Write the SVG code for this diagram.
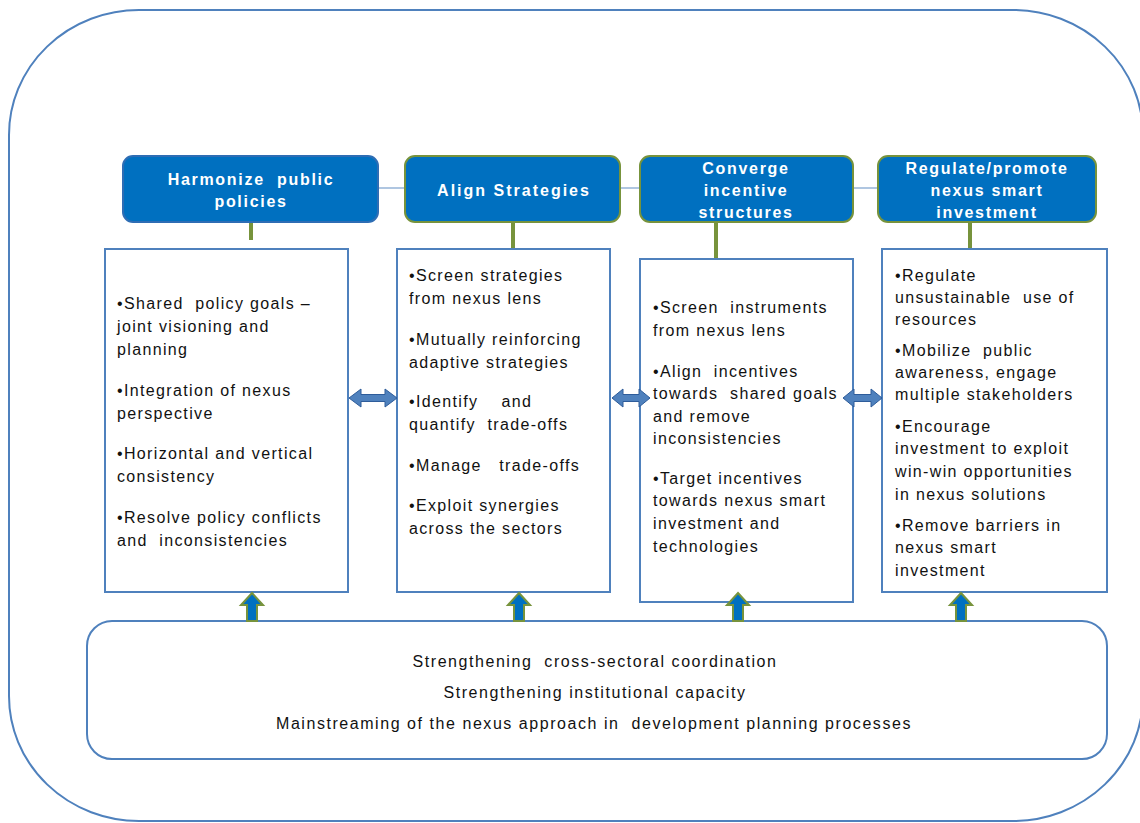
<svg xmlns="http://www.w3.org/2000/svg" width="1140" height="823" viewBox="0 0 1140 823">
<style>
text{white-space:pre}
.frame{fill:#fff;stroke:#4F81BD;stroke-width:2}
.head{fill:#0070C0;stroke-width:2}
.hb{stroke:#2E6DB4}
.hg{stroke:#77933C}
.box{fill:#fff;stroke:#4F81BD;stroke-width:2}
.ht{font-family:"Liberation Sans",Arial,sans-serif;font-weight:bold;font-size:16px;fill:#fff;text-anchor:middle;letter-spacing:1.7px}
.bt{font-family:"Liberation Sans",Arial,sans-serif;font-size:16px;fill:#111;letter-spacing:1.35px}
.ct{font-family:"Liberation Sans",Arial,sans-serif;font-size:16px;fill:#111;text-anchor:middle;letter-spacing:1.55px}
.link{stroke:#95B3D7;stroke-width:1.5;fill:none}
.stub{stroke:#77933C;stroke-width:4;fill:none}
.darr{fill:#4F81BD;stroke:#2E5C9A;stroke-width:1}
.uarr{fill:#0070C0;stroke:#77933C;stroke-width:2}
</style>
<rect class="frame" x="9" y="10" width="1134" height="811" rx="130" ry="125"/>
<g id="h1">
<rect class="head hb" x="123" y="156" width="255" height="66" rx="10"/>
<text class="ht" x="251" y="185">Harmonize  public</text>
<text class="ht" x="251" y="207">policies</text>
</g>
<g id="h2">
<rect class="head hg" x="405" y="156" width="215" height="66" rx="10"/>
<text class="ht" x="514" y="196" style="letter-spacing:2px">Align Strategies</text>
</g>
<g id="h3">
<rect class="head hg" x="640" y="156" width="213" height="66" rx="10"/>
<text class="ht" x="746" y="174">Converge</text>
<text class="ht" x="746" y="196">incentive</text>
<text class="ht" x="746" y="218">structures</text>
</g>
<g id="h4">
<rect class="head hg" x="878" y="156" width="218" height="66" rx="10"/>
<text class="ht" x="987" y="174">Regulate/promote</text>
<text class="ht" x="987" y="196">nexus smart</text>
<text class="ht" x="987" y="218">investment</text>
</g>
<g id="b1">
<rect class="box" x="105" y="249" width="243" height="343"/>
<text class="bt" x="117" y="309">•Shared  policy goals –</text>
<text class="bt" x="117" y="332">joint visioning and</text>
<text class="bt" x="117" y="355">planning</text>
<text class="bt" x="117" y="396">•Integration of nexus</text>
<text class="bt" x="117" y="419">perspective</text>
<text class="bt" x="117" y="459">•Horizontal and vertical</text>
<text class="bt" x="117" y="482">consistency</text>
<text class="bt" x="117" y="523">•Resolve policy conflicts</text>
<text class="bt" x="117" y="546">and  inconsistencies</text>
</g>
<g id="b2">
<rect class="box" x="397" y="249" width="213" height="343"/>
<text class="bt" x="409" y="281">•Screen strategies</text>
<text class="bt" x="409" y="304">from nexus lens</text>
<text class="bt" x="409" y="345">•Mutually reinforcing</text>
<text class="bt" x="409" y="368">adaptive strategies</text>
<text class="bt" x="409" y="407">•Identify    and</text>
<text class="bt" x="409" y="430">quantify  trade-offs</text>
<text class="bt" x="409" y="471">•Manage   trade-offs</text>
<text class="bt" x="409" y="511">•Exploit synergies</text>
<text class="bt" x="409" y="534">across the sectors</text>
</g>
<g id="b3">
<rect class="box" x="640" y="259" width="213" height="343"/>
<text class="bt" x="653" y="313">•Screen  instruments</text>
<text class="bt" x="653" y="336">from nexus lens</text>
<text class="bt" x="653" y="377">•Align  incentives</text>
<text class="bt" x="653" y="399">towards  shared goals</text>
<text class="bt" x="653" y="422">and remove</text>
<text class="bt" x="653" y="444">inconsistencies</text>
<text class="bt" x="653" y="484">•Target incentives</text>
<text class="bt" x="653" y="506">towards nexus smart</text>
<text class="bt" x="653" y="529">investment and</text>
<text class="bt" x="653" y="552">technologies</text>
</g>
<g id="b4">
<rect class="box" x="882" y="249" width="225" height="343"/>
<text class="bt" x="895" y="281">•Regulate</text>
<text class="bt" x="895" y="303">unsustainable  use of</text>
<text class="bt" x="895" y="325">resources</text>
<text class="bt" x="895" y="356">•Mobilize  public</text>
<text class="bt" x="895" y="378">awareness, engage</text>
<text class="bt" x="895" y="400">multiple stakeholders</text>
<text class="bt" x="895" y="432">•Encourage</text>
<text class="bt" x="895" y="454">investment to exploit</text>
<text class="bt" x="895" y="477">win-win opportunities</text>
<text class="bt" x="895" y="500">in nexus solutions</text>
<text class="bt" x="895" y="531">•Remove barriers in</text>
<text class="bt" x="895" y="553">nexus smart</text>
<text class="bt" x="895" y="576">investment</text>
</g>
<g id="base">
<rect class="box" x="87" y="621" width="1020" height="138" rx="25"/>
<text class="ct" x="595" y="667">Strengthening  cross-sectoral coordination</text>
<text class="ct" x="595" y="698">Strengthening institutional capacity</text>
<text class="ct" x="594" y="729">Mainstreaming of the nexus approach in  development planning processes</text>
</g>
<g id="connectors">
<line class="link" x1="379" y1="188" x2="404" y2="188"/>
<line class="link" x1="621" y1="188" x2="639" y2="188"/>
<line class="link" x1="854" y1="188" x2="877" y2="188"/>
<line class="stub" x1="251" y1="223" x2="251" y2="240"/>
<line class="stub" x1="513" y1="223" x2="513" y2="248"/>
<line class="stub" x1="716" y1="223" x2="716" y2="258"/>
<line class="stub" x1="970" y1="223" x2="970" y2="248"/>
<path class="darr" d="M349,398 L361,389 L361,394.5 L385,394.5 L385,389 L397,398 L385,407 L385,401.5 L361,401.5 L361,407 Z"/>
<path class="darr" d="M612,398 L623,389 L623,394.5 L639,394.5 L639,389 L650,398 L639,407 L639,401.5 L623,401.5 L623,407 Z"/>
<path class="darr" d="M843,398 L854,389 L854,394.5 L871,394.5 L871,389 L882,398 L871,407 L871,401.5 L854,401.5 L854,407 Z"/>
<path class="uarr" d="M252,593 L263,605 L257,605 L257,621 L247,621 L247,605 L241,605 Z"/>
<path class="uarr" d="M519,593 L530,605 L524,605 L524,621 L514,621 L514,605 L508,605 Z"/>
<path class="uarr" d="M738,593 L749,605 L743,605 L743,621 L733,621 L733,605 L727,605 Z"/>
<path class="uarr" d="M961,593 L972,605 L966,605 L966,621 L956,621 L956,605 L950,605 Z"/>
</g>
</svg>
